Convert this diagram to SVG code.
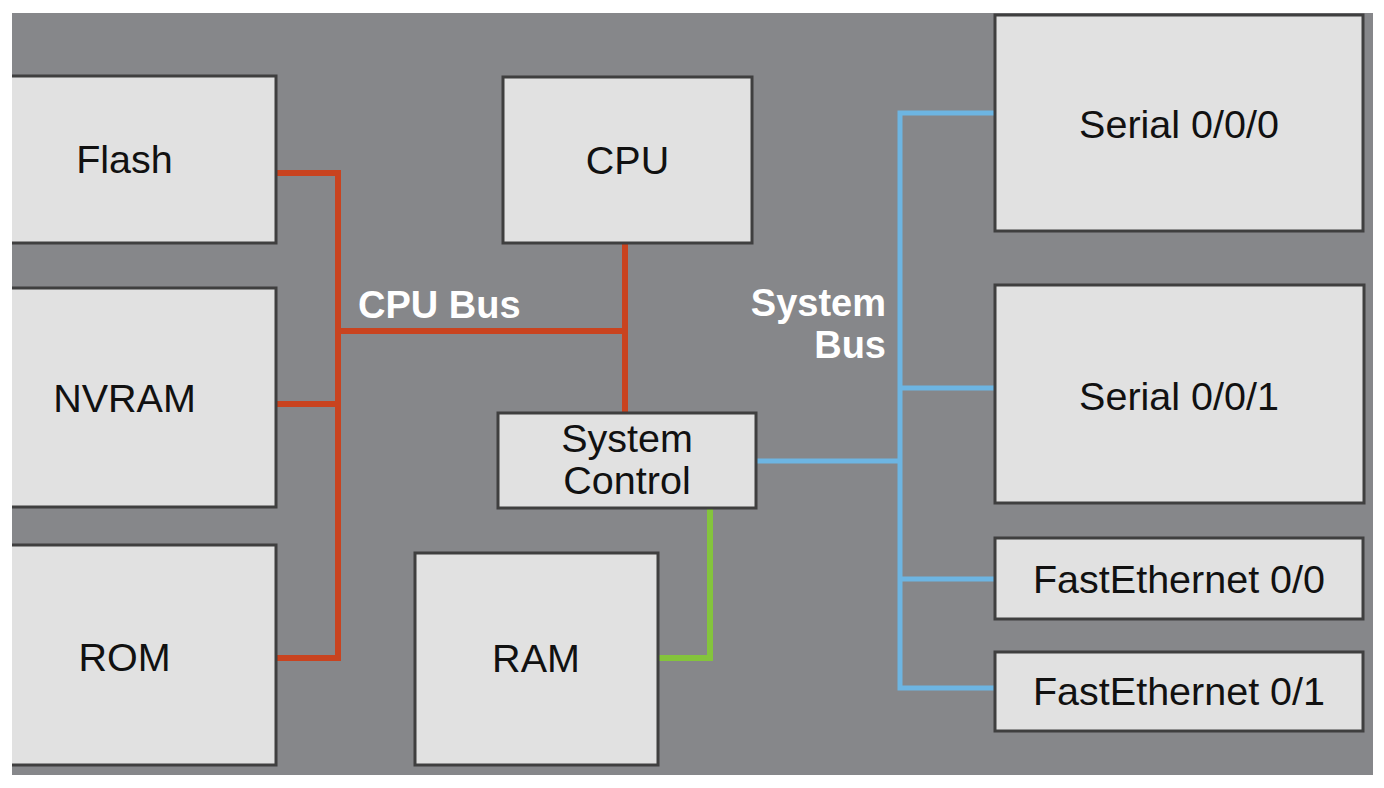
<svg xmlns="http://www.w3.org/2000/svg" width="1384" height="788" viewBox="0 0 1384 788">
<style>
.box{fill:#e1e1e1;stroke:#3f3f3f;stroke-width:3}
.t{font-family:"Liberation Sans",Arial,sans-serif;font-size:39.5px;fill:#111111;text-anchor:middle}
.lbl{font-family:"Liberation Sans",Arial,sans-serif;font-size:38px;font-weight:bold;fill:#ffffff}
.red{fill:none;stroke:#c9431f;stroke-width:6}
.blue{fill:none;stroke:#6db5e2;stroke-width:5}
.green{fill:none;stroke:#84c43c;stroke-width:6}
</style>
<defs>
<clipPath id="panel"><rect x="12" y="13" width="1361" height="762"/></clipPath>
</defs>
<rect x="0" y="0" width="1384" height="788" fill="#ffffff"/>
<g clip-path="url(#panel)">
<rect x="12" y="13" width="1361" height="762" fill="#86878a"/>
<g id="connectors">
<path class="red" d="M276 173 H338 V658 H276"/>
<path class="red" d="M276 404 H338"/>
<path class="red" d="M338 331 H625"/>
<path class="red" d="M625 243 V413"/>
<path class="green" d="M710 508 V658 H658"/>
<path class="blue" d="M756 461 H900"/>
<path class="blue" d="M995 113 H900 V688 H995"/>
<path class="blue" d="M900 388 H995"/>
<path class="blue" d="M900 579 H995"/>
</g>
<g id="flash"><rect class="box" x="-27" y="76" width="303" height="167"/><text class="t" x="124.5" y="173">Flash</text></g>
<g id="nvram"><rect class="box" x="-27" y="288" width="303" height="219"/><text class="t" x="124.5" y="412">NVRAM</text></g>
<g id="rom"><rect class="box" x="-27" y="545" width="303" height="220"/><text class="t" x="124.5" y="671">ROM</text></g>
<g id="cpu"><rect class="box" x="503" y="77" width="249" height="166"/><text class="t" x="627.5" y="174">CPU</text></g>
<g id="system-control"><rect class="box" x="498" y="413" width="258" height="95"/><text class="t" x="627" y="452">System</text><text class="t" x="627" y="494">Control</text></g>
<g id="ram"><rect class="box" x="415" y="553" width="243" height="212"/><text class="t" x="536" y="672">RAM</text></g>
<g id="serial000"><rect class="box" x="995" y="15" width="368" height="216"/><text class="t" x="1179" y="138">Serial 0/0/0</text></g>
<g id="serial001"><rect class="box" x="995" y="285" width="369" height="218"/><text class="t" x="1179" y="410">Serial 0/0/1</text></g>
<g id="fe00"><rect class="box" x="995" y="538" width="368" height="81"/><text class="t" x="1179" y="593">FastEthernet 0/0</text></g>
<g id="fe01"><rect class="box" x="995" y="652" width="368" height="79"/><text class="t" x="1179" y="705">FastEthernet 0/1</text></g>
<g id="labels">
<text class="lbl" x="358" y="318">CPU Bus</text>
<text class="lbl" x="886" y="316" text-anchor="end">System</text>
<text class="lbl" x="886" y="358" text-anchor="end">Bus</text>
</g>
</g>
</svg>
